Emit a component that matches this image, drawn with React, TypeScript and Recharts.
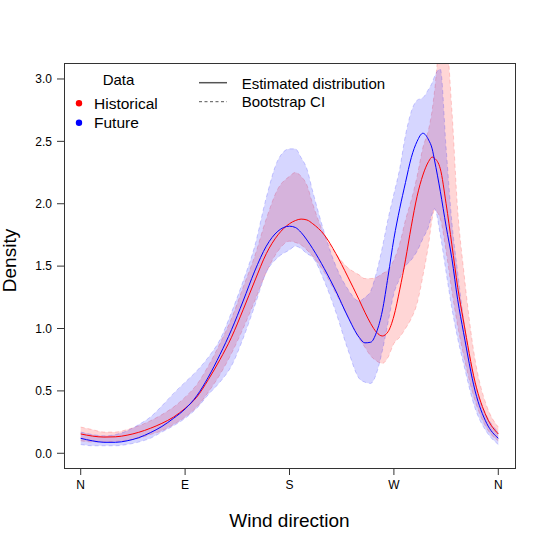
import { Area, ComposedChart, Line, XAxis, YAxis } from "recharts";

// wind direction in degrees (0 = N, 90 = E, 180 = S, 270 = W)
const deg = [
    0, 10, 20, 30, 40, 50, 60, 70, 80, 90, 100, 110, 120, 130, 140, 150, 160, 170, 180,
    185, 190, 195, 200, 210, 220, 230, 240,
    245, 250, 255, 260, 265, 270, 275, 280, 285, 290, 295, 300,
    303, 305, 310, 315, 320, 325, 330, 340, 350, 360,
];

const histMean = [
    0.155, 0.138, 0.13, 0.132, 0.145, 0.168, 0.2, 0.24, 0.29, 0.36, 0.45, 0.59, 0.75, 0.93, 1.15, 1.38, 1.6, 1.75, 1.84,
    1.865, 1.877, 1.87, 1.84, 1.75, 1.6, 1.42, 1.23,
    1.13, 1.04, 0.97, 0.94, 0.975, 1.1, 1.31, 1.55, 1.82, 2.06, 2.23, 2.34,
    2.374, 2.365, 2.28, 2.0, 1.67, 1.33, 1.06, 0.57, 0.29, 0.155,
];
const histLo = [
    0.1, 0.09, 0.09, 0.095, 0.105, 0.12, 0.15, 0.18, 0.23, 0.29, 0.37, 0.49, 0.63, 0.8, 1.0, 1.22, 1.45, 1.62, 1.7,
    1.69, 1.67, 1.63, 1.58, 1.45, 1.28, 1.1, 0.92,
    0.85, 0.78, 0.74, 0.72, 0.77, 0.88, 0.93, 1.0, 1.08, 1.2, 1.42, 1.68,
    1.88, 1.95, 1.88, 1.62, 1.3, 1.02, 0.79, 0.42, 0.2, 0.1,
];
const histHi = [
    0.21, 0.19, 0.17, 0.17, 0.19, 0.22, 0.26, 0.31, 0.37, 0.45, 0.55, 0.7, 0.88, 1.08, 1.33, 1.58, 1.88, 2.12, 2.22,
    2.25, 2.22, 2.15, 2.0, 1.75, 1.6, 1.49, 1.43,
    1.4, 1.4, 1.41, 1.44, 1.47, 1.55, 1.68, 1.87, 2.03, 2.22, 2.45, 2.6,
    2.75, 2.9, 3.3, 3.3, 2.75, 1.95, 1.48, 0.75, 0.38, 0.21,
];

const futMean = [
    0.12, 0.1, 0.088, 0.088, 0.1, 0.125, 0.165, 0.215, 0.28, 0.355, 0.46, 0.61, 0.79, 0.99, 1.22, 1.46, 1.66, 1.78, 1.82,
    1.81, 1.77, 1.71, 1.64, 1.48, 1.3, 1.1, 0.93,
    0.885, 0.89, 0.97, 1.14, 1.42, 1.72, 1.96, 2.17, 2.37, 2.5, 2.565, 2.51,
    2.44, 2.35, 2.1, 1.82, 1.56, 1.23, 0.97, 0.5, 0.24, 0.12,
];
const futLo = [
    0.07, 0.06, 0.06, 0.06, 0.07, 0.09, 0.12, 0.17, 0.22, 0.28, 0.36, 0.47, 0.57, 0.7, 0.92, 1.18, 1.45, 1.57, 1.63,
    1.66, 1.64, 1.6, 1.57, 1.38, 1.13, 0.84, 0.6,
    0.57, 0.56, 0.64, 0.82, 1.05, 1.28, 1.4, 1.5, 1.55, 1.62, 1.72, 1.82,
    1.92, 1.96, 1.75, 1.45, 1.16, 0.92, 0.72, 0.36, 0.17, 0.07,
];
const futHi = [
    0.17, 0.15, 0.14, 0.15, 0.18, 0.23, 0.29, 0.38, 0.48, 0.57, 0.66, 0.77, 0.91, 1.13, 1.38, 1.66, 2.05, 2.35, 2.44,
    2.44, 2.37, 2.28, 2.1, 1.77, 1.5, 1.32, 1.22,
    1.25, 1.3, 1.45, 1.65, 1.88, 2.08, 2.28, 2.55, 2.74, 2.83, 2.85, 2.92,
    2.97, 3.02, 3.08, 2.45, 1.85, 1.45, 1.08, 0.56, 0.3, 0.17,
];

const xTicks = [0, 90, 180, 270, 360];
const xTickLabels = ["N", "E", "S", "W", "N"];
const yTicks = [0, 0.5, 1, 1.5, 2, 2.5, 3];

const rows = deg.map((d, i) => ({
    deg: d,
    hist: histMean[i],
    histBand: [histLo[i], histHi[i]],
    fut: futMean[i],
    futBand: [futLo[i], futHi[i]],
}));

const font = "'Liberation Sans', Arial, Helvetica, sans-serif";

export default function App() {
    return (
        <div style={{ position: "relative", width: 548, height: 548, fontFamily: font, background: "#fff" }}>
            <style>{"body{margin:0}"}</style>
            <ComposedChart width={548} height={548} data={rows} margin={{ top: 63, right: 33, bottom: 50, left: 4 }}>
                <XAxis
                    type="number"
                    dataKey="deg"
                    domain={[-14.4, 374.4]}
                    ticks={xTicks}
                    interval={0}
                    allowDataOverflow
                    tickFormatter={(v: number) => xTickLabels[xTicks.indexOf(v)]}
                    axisLine={false}
                    tickSize={7}
                    tickMargin={5}
                    height={30}
                    tickLine={{ stroke: "#333" }}
                    tick={{ fill: "#000", fontSize: 12, fontFamily: font }}
                />
                <YAxis
                    type="number"
                    domain={[-0.118, 3.128]}
                    ticks={yTicks}
                    interval={0}
                    allowDataOverflow
                    tickFormatter={(v: number) => v.toFixed(1)}
                    axisLine={false}
                    tickSize={7}
                    tickMargin={5}
                    width={60}
                    tickLine={{ stroke: "#333" }}
                    tick={{ fill: "#000", fontSize: 12, fontFamily: font }}
                />
                <Area
                    dataKey="histBand"
                    type="monotone"
                    fill="#ff0000"
                    fillOpacity={0.16}
                    stroke="rgba(255,0,0,0.18)"
                    strokeDasharray="4 3"
                    isAnimationActive={false}
                />
                <Area
                    dataKey="futBand"
                    type="monotone"
                    fill="#0000ff"
                    fillOpacity={0.16}
                    stroke="rgba(0,0,255,0.18)"
                    strokeDasharray="4 3"
                    isAnimationActive={false}
                />
                <Line dataKey="hist" type="monotone" stroke="#ff0000" strokeWidth={1} dot={false} isAnimationActive={false} />
                <Line dataKey="fut" type="monotone" stroke="#0000ff" strokeWidth={1} dot={false} isAnimationActive={false} />
            </ComposedChart>
            <svg width={548} height={548} style={{ position: "absolute", left: 0, top: 0, pointerEvents: "none" }} fontFamily={font}>
                <rect x={64.5} y={63.5} width={451} height={405} fill="none" stroke="#333" strokeWidth={1} />
                <text x={118.5} y={79} fontSize={15} textAnchor="middle" dominantBaseline="central">Data</text>
                <circle cx={79} cy={103.3} r={3.2} fill="#ff0000" />
                <text x={94} y={103.3} fontSize={15.5} dominantBaseline="central">Historical</text>
                <circle cx={79} cy={122.7} r={3.2} fill="#0000ff" />
                <text x={94} y={122.7} fontSize={15.5} dominantBaseline="central">Future</text>
                <line x1={199} x2={227} y1={82.7} y2={82.7} stroke="#555" strokeWidth={1.5} />
                <text x={241.7} y={83} fontSize={15} dominantBaseline="central">Estimated distribution</text>
                <line x1={199} x2={227} y1={101.7} y2={101.7} stroke="#555" strokeWidth={1} strokeDasharray="3 2.5" />
                <text x={241.7} y={101.7} fontSize={15} dominantBaseline="central">Bootstrap CI</text>
                <text x={289.5} y={527} fontSize={19} textAnchor="middle">Wind direction</text>
                <text x={16} y={260.5} fontSize={19} textAnchor="middle" transform="rotate(-90 16 260.5)">Density</text>
            </svg>
        </div>
    );
}
